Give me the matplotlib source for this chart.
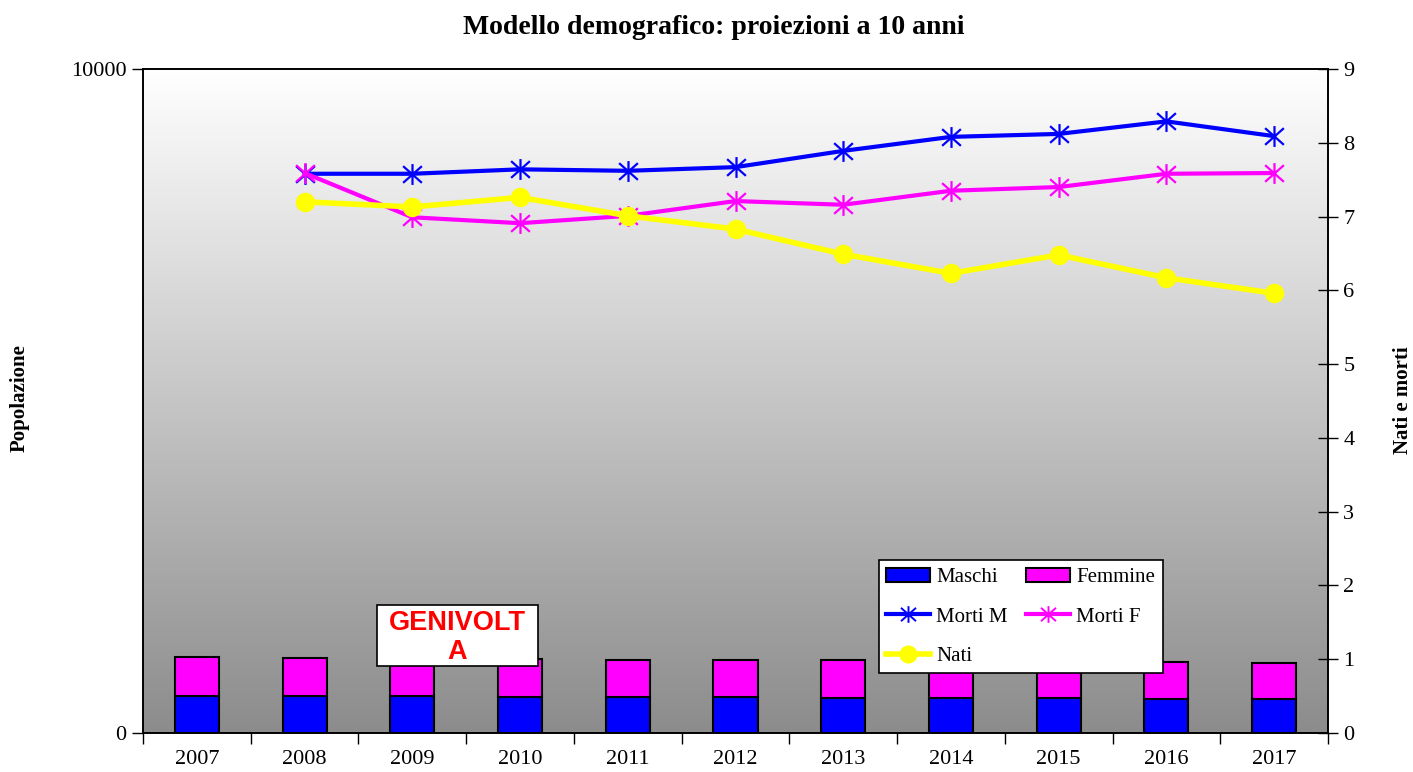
import numpy as np
import matplotlib.pyplot as plt
from matplotlib.colors import LinearSegmentedColormap
from matplotlib.patches import Patch, Rectangle
from matplotlib.lines import Line2D
from matplotlib.path import Path

# Data
anni = ['2007', '2008', '2009', '2010', '2011', '2012', '2013', '2014', '2015', '2016', '2017']
maschi = [557, 554, 552, 545, 542, 538, 533, 528, 523, 518, 512]
femmine = [583, 578, 570, 568, 562, 561, 560, 557, 554, 547, 540]
anni_linee = anni[1:]
morti_m = [7.58, 7.58, 7.64, 7.62, 7.67, 7.89, 8.08, 8.12, 8.29, 8.09]
morti_f = [7.59, 6.99, 6.91, 7.01, 7.21, 7.16, 7.35, 7.40, 7.58, 7.59]
nati = [7.20, 7.13, 7.26, 7.01, 6.83, 6.49, 6.23, 6.48, 6.17, 5.96]

plt.rcParams['font.family'] = 'Liberation Serif'

W, H = 1413, 772
fig = plt.figure(figsize=(W / 100, H / 100), dpi=100)
ax = fig.add_axes([143/W, 1 - 733/H, (1328-143)/W, (733-69)/H])
ax2 = ax.twinx()

x = np.arange(len(anni))
n = len(anni)

# gradient background, white on top, gray at the bottom
grad = np.linspace(0, 1, 256).reshape(-1, 1)
cm = LinearSegmentedColormap.from_list('g', ['#ffffff', '#8c8c8c'])
ax.imshow(grad, cmap=cm, aspect='auto', extent=[-0.5, n - 0.5, 0, 10000],
          origin='upper', zorder=0, interpolation='bicubic')

bw = 0.41
ax.bar(x, maschi, bw, color='#0000ff', edgecolor='black', linewidth=1.5, zorder=2)
ax.bar(x, femmine, bw, bottom=maschi, color='#ff00ff', edgecolor='black', linewidth=1.5, zorder=2)
ax.set_xlim(-0.5, n - 0.5)
ax.set_ylim(0, 10000)
ax.set_yticks([0, 10000])
ax.set_yticklabels(['0', '10000'], fontsize=16)
ax.set_xticks(x)
ax.set_xticklabels(anni, fontsize=16)
ax.set_xticks(np.arange(-0.5, n, 1), minor=True)
ax.tick_params(axis='x', which='major', length=0, pad=12)
ax.tick_params(axis='x', which='minor', length=8, width=1, direction='out')
ax.tick_params(axis='y', length=8, width=1, direction='out', pad=4)

ax2.set_ylim(0, 9)
ax2.set_yticks(range(10))
ax2.tick_params(axis='y', labelsize=16, length=14, width=1, direction='inout', pad=4)

# asterisk marker: vertical bar plus an x
ast = Path([(0, -1), (0, 1), (-0.9, -0.8), (0.9, 0.8), (-0.9, 0.8), (0.9, -0.8)],
           [Path.MOVETO, Path.LINETO] * 3)

xl = [anni.index(a) for a in anni_linee]
ax2.plot(xl, morti_m, color='#0000ff', lw=3, marker=ast, ms=15, mew=1.6, zorder=3)
ax2.plot(xl, morti_f, color='#ff00ff', lw=3, marker=ast, ms=15, mew=1.6, zorder=3)
ax2.plot(xl, nati, color='#ffff00', lw=4, marker='o', ms=13, zorder=3)

for a in (ax, ax2):
    for s in a.spines.values():
        s.set_linewidth(1.2)

fig.text(0.505, 1 - 27/H, 'Modello demografico: proiezioni a 10 anni', ha='center', va='center',
         fontsize=20, fontweight='bold')
fig.text(20/W, 1 - 398/H, 'Popolazione', rotation=90, ha='center', va='center',
         fontsize=15, fontweight='bold')
fig.text(1403/W, 1 - 400/H, 'Nati e morti', rotation=90, ha='center', va='center',
         fontsize=15, fontweight='bold')

handles = [Patch(facecolor='#0000ff', edgecolor='black', linewidth=1.5),
           Line2D([], [], color='#0000ff', lw=3, marker=ast, ms=12, mew=1.4),
           Line2D([], [], color='#ffff00', lw=4, marker='o', ms=12),
           Patch(facecolor='#ff00ff', edgecolor='black', linewidth=1.5),
           Line2D([], [], color='#ff00ff', lw=3, marker=ast, ms=12, mew=1.4)]
labels = ['Maschi', 'Morti M', 'Nati', 'Femmine', 'Morti F']
leg = ax2.legend(handles, labels, ncol=2, loc='lower left', bbox_to_anchor=(0.621, 0.090),
                 fontsize=15, frameon=True, fancybox=False, edgecolor='black', framealpha=1,
                 handlelength=2.1, handletextpad=0.3, columnspacing=0.9, labelspacing=0.95,
                 borderpad=0.35, borderaxespad=0)
leg.get_frame().set_linewidth(1.2)

# GENIVOLTA label box
fig.patches.append(Rectangle((377/W, 1 - 666/H), (538-377)/W, (666-605)/H, transform=fig.transFigure,
                             facecolor='white', edgecolor='black', linewidth=1.2, zorder=10))
fig.text(457.5/W, 1 - 623/H, 'GENIVOLT', ha='center', va='center', fontsize=19.5,
         fontweight='bold', color='#ff0000', family='Liberation Sans', zorder=11)
fig.text(457.5/W, 1 - 652/H, 'A', ha='center', va='center', fontsize=19.5,
         fontweight='bold', color='#ff0000', family='Liberation Sans', zorder=11)

fig.savefig('out.png', dpi=100)
